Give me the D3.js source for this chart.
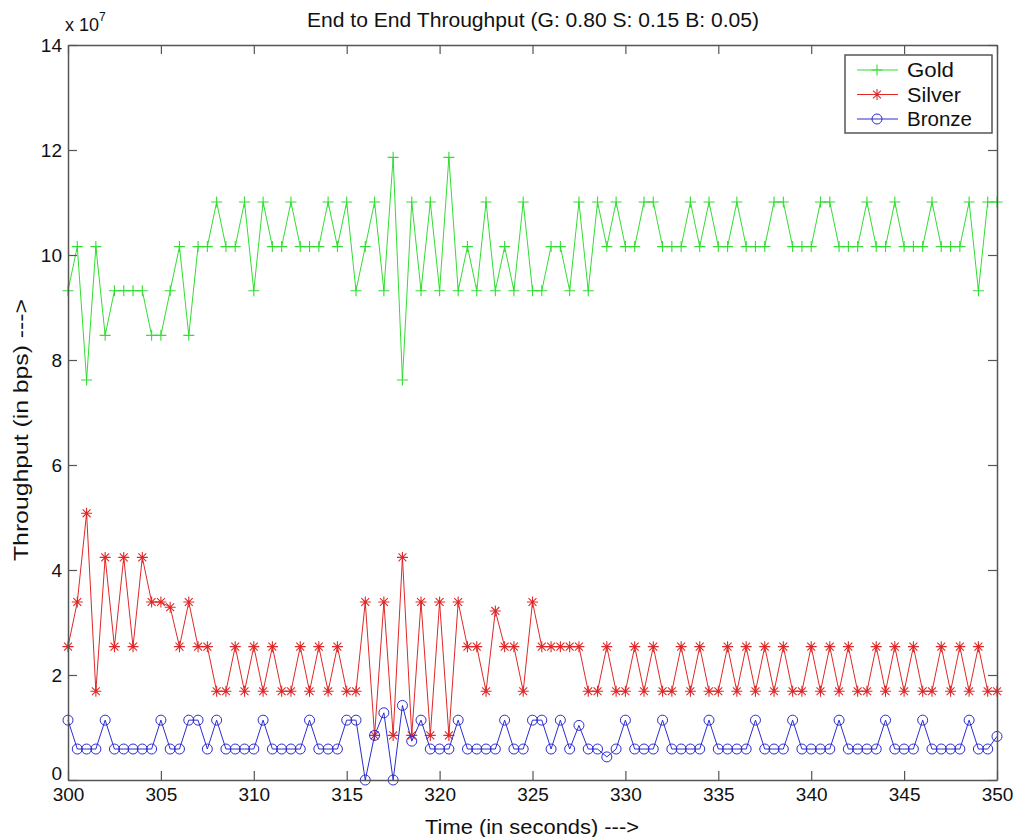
<!DOCTYPE html>
<html>
<head>
<meta charset="utf-8">
<script src="https://cdn.jsdelivr.net/npm/d3@7"></script>
<style>
  html, body { margin: 0; padding: 0; background: #fff; }
  svg { display: block; }
  text { font-family: "Liberation Sans", Arial, Helvetica, sans-serif; fill: #111; }
</style>
</head>
<body>
<svg id="chart" width="1020" height="837"></svg>
<script>
// ---- data (throughput values in units of 10^7 bps) ----
const timeSec = [
  300,300.5,301,301.5,302,302.5,303,303.5,304,304.5,
  305,305.5,306,306.5,307,307.5,308,308.5,309,309.5,
  310,310.5,311,311.5,312,312.5,313,313.5,314,314.5,
  315,315.5,316,316.5,317,317.5,318,318.5,319,319.5,
  320,320.5,321,321.5,322,322.5,323,323.5,324,324.5,
  325,325.5,326,326.5,327,327.5,328,328.5,329,329.5,
  330,330.5,331,331.5,332,332.5,333,333.5,334,334.5,
  335,335.5,336,336.5,337,337.5,338,338.5,339,339.5,
  340,340.5,341,341.5,342,342.5,343,343.5,344,344.5,
  345,345.5,346,346.5,347,347.5,348,348.5,349,349.5,
  350
];
const gold = [
  9.32,10.16,7.62,10.16,8.47,9.32,9.32,9.32,9.32,8.47,
  8.47,9.32,10.16,8.47,10.16,10.16,11.01,10.16,10.16,11.01,
  9.32,11.01,10.16,10.16,11.01,10.16,10.16,10.16,11.01,10.16,
  11.01,9.32,10.16,11.01,9.32,11.86,7.62,11.01,9.32,11.01,
  9.32,11.86,9.32,10.16,9.32,11.01,9.32,10.16,9.32,11.01,
  9.32,9.32,10.16,10.16,9.32,11.01,9.32,11.01,10.16,11.01,
  10.16,10.16,11.01,11.01,10.16,10.16,10.16,11.01,10.16,11.01,
  10.16,10.16,11.01,10.16,10.16,10.16,11.01,11.01,10.16,10.16,
  10.16,11.01,11.01,10.16,10.16,10.16,11.01,10.16,10.16,11.01,
  10.16,10.16,10.16,11.01,10.16,10.16,10.16,11.01,9.32,11.01,
  11.01
];
const silver = [
  2.54,3.39,5.08,1.69,4.24,2.54,4.24,2.54,4.24,3.39,
  3.39,3.29,2.54,3.39,2.54,2.54,1.69,1.69,2.54,1.69,
  2.54,1.69,2.54,1.69,1.69,2.54,1.69,2.54,1.69,2.54,
  1.69,1.69,3.39,0.85,3.39,0.85,4.24,0.85,3.39,0.85,
  3.39,0.85,3.39,2.54,2.54,1.69,3.22,2.54,2.54,1.69,
  3.39,2.54,2.54,2.54,2.54,2.54,1.69,1.69,2.54,1.69,
  1.69,2.54,1.69,2.54,1.69,1.69,2.54,1.69,2.54,1.69,
  1.69,2.54,1.69,2.54,1.69,2.54,1.69,2.54,1.69,1.69,
  2.54,1.69,2.54,1.69,2.54,1.69,1.69,2.54,1.69,2.54,
  1.69,2.54,1.69,1.69,2.54,1.69,2.54,1.69,2.54,1.69,
  1.69
];
const bronze = [
  1.14,0.59,0.59,0.59,1.14,0.59,0.59,0.59,0.59,0.59,
  1.14,0.59,0.59,1.14,1.14,0.59,1.14,0.59,0.59,0.59,
  0.59,1.14,0.59,0.59,0.59,0.59,1.14,0.59,0.59,0.59,
  1.14,1.14,0.00,0.85,1.28,0.00,1.42,0.74,1.14,0.59,
  0.59,0.59,1.14,0.59,0.59,0.59,0.59,1.14,0.59,0.59,
  1.14,1.14,0.59,1.14,0.59,1.04,0.59,0.59,0.44,0.59,
  1.14,0.59,0.59,0.59,1.14,0.59,0.59,0.59,0.59,1.14,
  0.59,0.59,0.59,0.59,1.14,0.59,0.59,0.59,1.14,0.59,
  0.59,0.59,0.59,1.14,0.59,0.59,0.59,0.59,1.14,0.59,
  0.59,0.59,1.14,0.59,0.59,0.59,0.59,1.14,0.59,0.59,
  0.83
];
const seriesNames = ["Gold", "Silver", "Bronze"];
const xTicks = [300,305,310,315,320,325,330,335,340,345,350];
const yTicks = [0,2,4,6,8,10,12,14];
const titleText = "End to End Throughput (G: 0.80 S: 0.15 B: 0.05)";
const xLabelText = "Time (in seconds) --->";
const yLabelText = "Throughput (in bps) --->";

// ---- layout ----
const svg = d3.select("#chart");
const L = 68, R = 997, T = 45, B = 780;
const x = d3.scaleLinear().domain([300, 350]).range([L, R]);
const y = d3.scaleLinear().domain([0, 14]).range([B, T]);
const axisColor = "#555";
const fs = 19;

const styles = {
  Gold:   { color: "#33dd33", marker: "plus" },
  Silver: { color: "#e02828", marker: "star" },
  Bronze: { color: "#2c2cd0", marker: "circle" }
};

function markerPath(type, s) {
  if (type === "plus") return `M${-s},0H${s}M0,${-s}V${s}`;
  if (type === "star") {
    const d = s * 0.72;
    return `M${-s},0H${s}M0,${-s}V${s}M${-d},${-d}L${d},${d}M${-d},${d}L${d},${-d}`;
  }
  return null;
}

// ---- series ----
const dataSets = [gold, silver, bronze];
const line = d3.line().x(d => x(d[0])).y(d => y(d[1]));
const plot = svg.append("g");
dataSets.forEach((vals, k) => {
  const name = seriesNames[k];
  const st = styles[name];
  const pts = timeSec.map((t, i) => [t, vals[i]]);
  plot.append("path").datum(pts).attr("d", line)
    .attr("fill", "none").attr("stroke", st.color).attr("stroke-width", 1);
  const g = plot.append("g");
  if (st.marker === "circle") {
    g.selectAll("circle").data(pts).join("circle")
      .attr("cx", d => x(d[0])).attr("cy", d => y(d[1])).attr("r", 5)
      .attr("fill", "none").attr("stroke", st.color).attr("stroke-width", 1);
  } else {
    g.selectAll("path").data(pts).join("path")
      .attr("transform", d => `translate(${x(d[0])},${y(d[1])})`)
      .attr("d", markerPath(st.marker, 5.5))
      .attr("fill", "none").attr("stroke", st.color).attr("stroke-width", 1.1);
  }
});

// ---- axes box ----
const tickLen = 9;
const axisG = svg.append("g");
const bottomAxis = d3.axisBottom(x).tickValues(xTicks).tickSizeInner(-tickLen).tickSizeOuter(0).tickPadding(6);
const topAxis = d3.axisTop(x).tickValues(xTicks).tickSizeInner(-tickLen).tickSizeOuter(0).tickFormat("");
const leftAxis = d3.axisLeft(y).tickValues(yTicks).tickSizeInner(-tickLen).tickSizeOuter(0).tickPadding(6);
const rightAxis = d3.axisRight(y).tickValues(yTicks).tickSizeInner(-tickLen).tickSizeOuter(0).tickFormat("");

const gb = axisG.append("g").attr("transform", `translate(0,${B})`).call(bottomAxis);
const gt = axisG.append("g").attr("transform", `translate(0,${T})`).call(topAxis);
const gl = axisG.append("g").attr("transform", `translate(${L},0)`).call(leftAxis);
const gr = axisG.append("g").attr("transform", `translate(${R},0)`).call(rightAxis);
[gb, gt, gl, gr].forEach(g => {
  g.select(".domain").attr("stroke", axisColor).attr("stroke-width", 1.5);
  g.selectAll(".tick line").attr("stroke", axisColor).attr("stroke-width", 1.2);
  g.selectAll(".tick text").attr("font-size", fs).attr("font-family", "Liberation Sans, Arial, sans-serif").attr("fill", "#111");
});
gb.selectAll(".tick text").attr("dy", "0.79em");
gl.selectAll(".tick text").attr("dy", d => d === 0 ? "-0.03em" : "0.35em");

// exponent label
const expo = svg.append("text").attr("x", 65).attr("y", 31).attr("font-size", 18);
expo.append("tspan").text("x 10");
expo.append("tspan").attr("font-size", 12).attr("dy", -10).text("7");

// title & axis labels
svg.append("text").attr("x", 533).attr("y", 27).attr("text-anchor", "middle")
  .attr("font-size", 20).attr("textLength", 452).attr("lengthAdjust", "spacingAndGlyphs").text(titleText);
svg.append("text").attr("x", 532).attr("y", 834).attr("text-anchor", "middle")
  .attr("font-size", 20).attr("textLength", 214).attr("lengthAdjust", "spacingAndGlyphs").text(xLabelText);
svg.append("text").attr("transform", "translate(28,430) rotate(-90)").attr("text-anchor", "middle")
  .attr("font-size", 20).attr("textLength", 262).attr("lengthAdjust", "spacingAndGlyphs").text(yLabelText);

// ---- legend ----
const lg = svg.append("g");
const lx = 845, ly = 55, lw = 147, lh = 78;
const legendTextLen = { Gold: 47, Silver: 54, Bronze: 65 };
lg.append("rect").attr("x", lx).attr("y", ly).attr("width", lw).attr("height", lh)
  .attr("fill", "#fff").attr("stroke", axisColor).attr("stroke-width", 1.5);
seriesNames.forEach((name, i) => {
  const st = styles[name];
  const cy = 70 + i * 24.5;
  lg.append("line").attr("x1", 857).attr("x2", 898).attr("y1", cy).attr("y2", cy)
    .attr("stroke", st.color).attr("stroke-width", 1);
  if (st.marker === "circle") {
    lg.append("circle").attr("cx", 877).attr("cy", cy).attr("r", 5)
      .attr("fill", "none").attr("stroke", st.color);
  } else {
    lg.append("path").attr("transform", `translate(877,${cy})`).attr("d", markerPath(st.marker, 5.5))
      .attr("fill", "none").attr("stroke", st.color).attr("stroke-width", 1.1);
  }
  lg.append("text").attr("x", 907).attr("y", cy).attr("dy", "0.36em")
    .attr("font-size", 20).attr("textLength", legendTextLen[name]).attr("lengthAdjust", "spacingAndGlyphs").text(name);
});
</script>
</body>
</html>
